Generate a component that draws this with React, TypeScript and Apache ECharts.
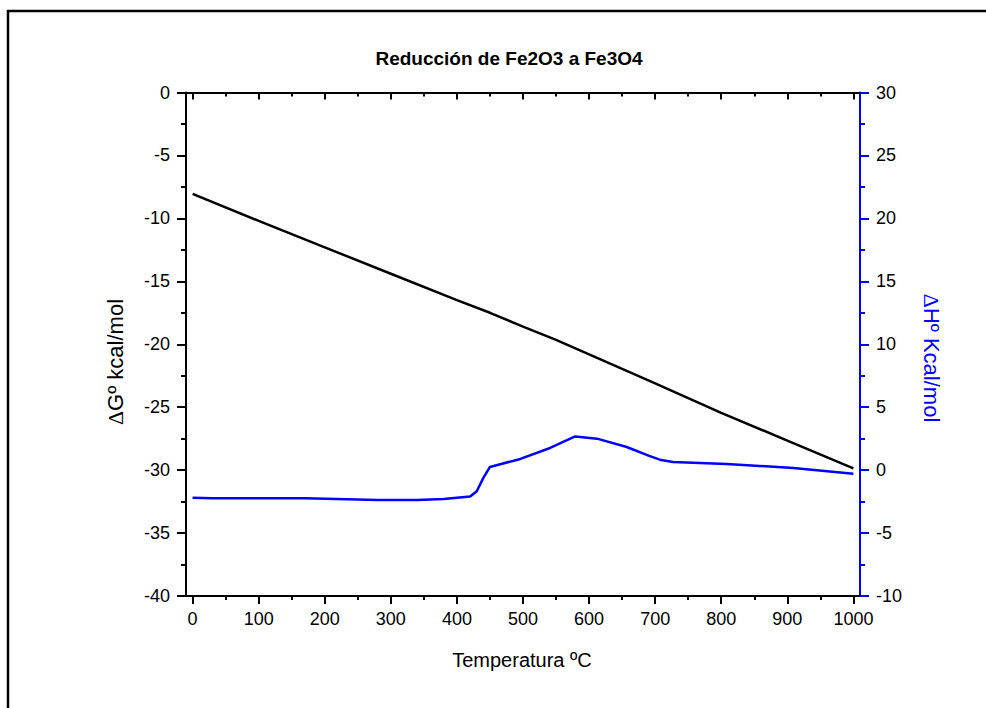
import React, { useEffect, useRef } from "react";
import * as echarts from "echarts";

// Black curve: ΔGº (left axis)
const TEMP_G = [0, 100, 200, 300, 400, 450, 500, 550, 600, 700, 800, 900, 1000];
const DELTA_G = [-8.05, -10.2, -12.3, -14.4, -16.5, -17.5, -18.6, -19.65, -20.8, -23.1, -25.45, -27.65, -29.86];

// Blue curve: ΔHº (right axis)
const TEMP_H = [0, 30, 170, 280, 340, 380, 420, 430, 440, 450, 496, 541, 579, 612, 657, 690, 707, 727, 808, 909, 1000];
const DELTA_H = [-2.2, -2.23, -2.23, -2.37, -2.37, -2.3, -2.1, -1.68, -0.62, 0.25, 0.89, 1.76, 2.68, 2.5, 1.84, 1.15, 0.83, 0.65, 0.49, 0.17, -0.28];

const X_TICKS = [0, 100, 200, 300, 400, 500, 600, 700, 800, 900, 1000];
const X_MINOR = [50, 150, 250, 350, 450, 550, 650, 750, 850, 950];

const TITLE = "Reducción de Fe2O3 a Fe3O4";
const X_NAME = "Temperatura ºC";

const FONT = "'Liberation Sans', Arial, sans-serif";
const SERIF = "'Liberation Serif', 'Times New Roman', serif";
const BLUE = "#0000ff";

export default function App() {
  const ref = useRef<HTMLDivElement>(null);
  useEffect(() => {
    if (!ref.current) return;
    const chart = echarts.init(ref.current, undefined, { renderer: "svg" });
    const fmt = (v: number) => String(v);
    const xBase = {
      type: "value",
      min: -10,
      max: 1010,
      axisLine: { onZero: false, show: false },
      splitLine: { show: false },
      axisLabel: { show: false },
    };
    chart.setOption({
      animation: false,
      grid: { left: 186, top: 92.5, right: 126, bottom: 112, containLabel: false },
      xAxis: [
        {
          ...xBase,
          position: "bottom",
          axisLine: { show: true, onZero: false, lineStyle: { color: "#000", width: 2 } },
          axisTick: { show: true, customValues: X_TICKS, length: 8, lineStyle: { color: "#000", width: 2 } },
          axisLabel: { show: true, customValues: X_TICKS, formatter: fmt, margin: 14, fontSize: 18, color: "#000", fontFamily: FONT },
        },
        {
          ...xBase,
          position: "bottom",
          axisTick: { show: true, customValues: X_MINOR, length: 4, lineStyle: { color: "#000", width: 2 } },
        },
        {
          ...xBase,
          position: "top",
          axisLine: { show: true, onZero: false, lineStyle: { color: "#000", width: 2 } },
          axisTick: { show: true, inside: true, customValues: X_TICKS, length: 7, lineStyle: { color: "#000", width: 2 } },
        },
        {
          ...xBase,
          position: "top",
          axisTick: { show: true, inside: true, customValues: X_MINOR, length: 4, lineStyle: { color: "#000", width: 2 } },
        },
      ],
      yAxis: [
        {
          type: "value",
          position: "left",
          min: -40,
          max: 0,
          interval: 5,
          axisLine: { show: true, onZero: false, lineStyle: { color: "#000", width: 2 } },
          axisTick: { show: true, length: 9, lineStyle: { color: "#000", width: 2 } },
          minorTick: { show: true, splitNumber: 2, length: 5, lineStyle: { color: "#000", width: 2 } },
          splitLine: { show: false },
          axisLabel: { margin: 16, fontSize: 18, color: "#000", fontFamily: FONT, formatter: fmt },
        },
        {
          type: "value",
          position: "right",
          min: -10,
          max: 30,
          interval: 5,
          axisLine: { show: true, onZero: false, lineStyle: { color: BLUE, width: 2 } },
          axisTick: { show: true, length: 9, lineStyle: { color: BLUE, width: 2 } },
          minorTick: { show: true, splitNumber: 2, length: 5, lineStyle: { color: BLUE, width: 2 } },
          splitLine: { show: false },
          axisLabel: { margin: 16, fontSize: 18, color: "#000", fontFamily: FONT, formatter: fmt },
        },
      ],
      series: [
        {
          type: "line",
          xAxisIndex: 0,
          yAxisIndex: 0,
          data: TEMP_G.map((t, i) => [t, DELTA_G[i]]),
          symbol: "none",
          lineStyle: { color: "#000", width: 2.5 },
        },
        {
          type: "line",
          xAxisIndex: 0,
          yAxisIndex: 1,
          data: TEMP_H.map((t, i) => [t, DELTA_H[i]]),
          symbol: "none",
          lineStyle: { color: BLUE, width: 2.5 },
        },
      ],
      graphic: [
        { type: "line", shape: { x1: 8, y1: 10, x2: 8, y2: 708 }, style: { stroke: "#000", lineWidth: 2.5 } },
        { type: "line", shape: { x1: 7, y1: 11, x2: 986, y2: 11 }, style: { stroke: "#000", lineWidth: 2.5 } },
        {
          type: "text",
          x: 509,
          y: 58,
          style: {
            text: TITLE,
            fontSize: 19,
            fontWeight: "bold",
            fontFamily: FONT,
            fill: "#000",
            textAlign: "center",
            textVerticalAlign: "middle",
          },
        },
        {
          type: "text",
          x: 522,
          y: 660,
          style: {
            text: X_NAME,
            fontSize: 20,
            fontFamily: FONT,
            fill: "#000",
            textAlign: "center",
            textVerticalAlign: "middle",
          },
        },
        {
          type: "text",
          x: 115,
          y: 362,
          rotation: Math.PI / 2,
          style: {
            text: "{d|Δ}{n|Gº kcal/mol}",
            rich: {
              d: { fontSize: 22, fontFamily: SERIF, fill: "#000" },
              n: { fontSize: 22, fontFamily: FONT, fill: "#000" },
            },
            fill: "#000",
            textAlign: "center",
            textVerticalAlign: "middle",
          },
        },
        {
          type: "text",
          x: 931,
          y: 358,
          rotation: -Math.PI / 2,
          style: {
            text: "{d|Δ}{n|Hº Kcal/mol}",
            rich: {
              d: { fontSize: 22, fontFamily: SERIF, fill: BLUE },
              n: { fontSize: 22, fontFamily: FONT, fill: BLUE },
            },
            fill: BLUE,
            textAlign: "center",
            textVerticalAlign: "middle",
          },
        },
      ],
    });
    return () => chart.dispose();
  }, []);
  return <div ref={ref} style={{ position: "fixed", left: 0, top: 0, width: 986, height: 708, background: "#fff" }} />;
}
